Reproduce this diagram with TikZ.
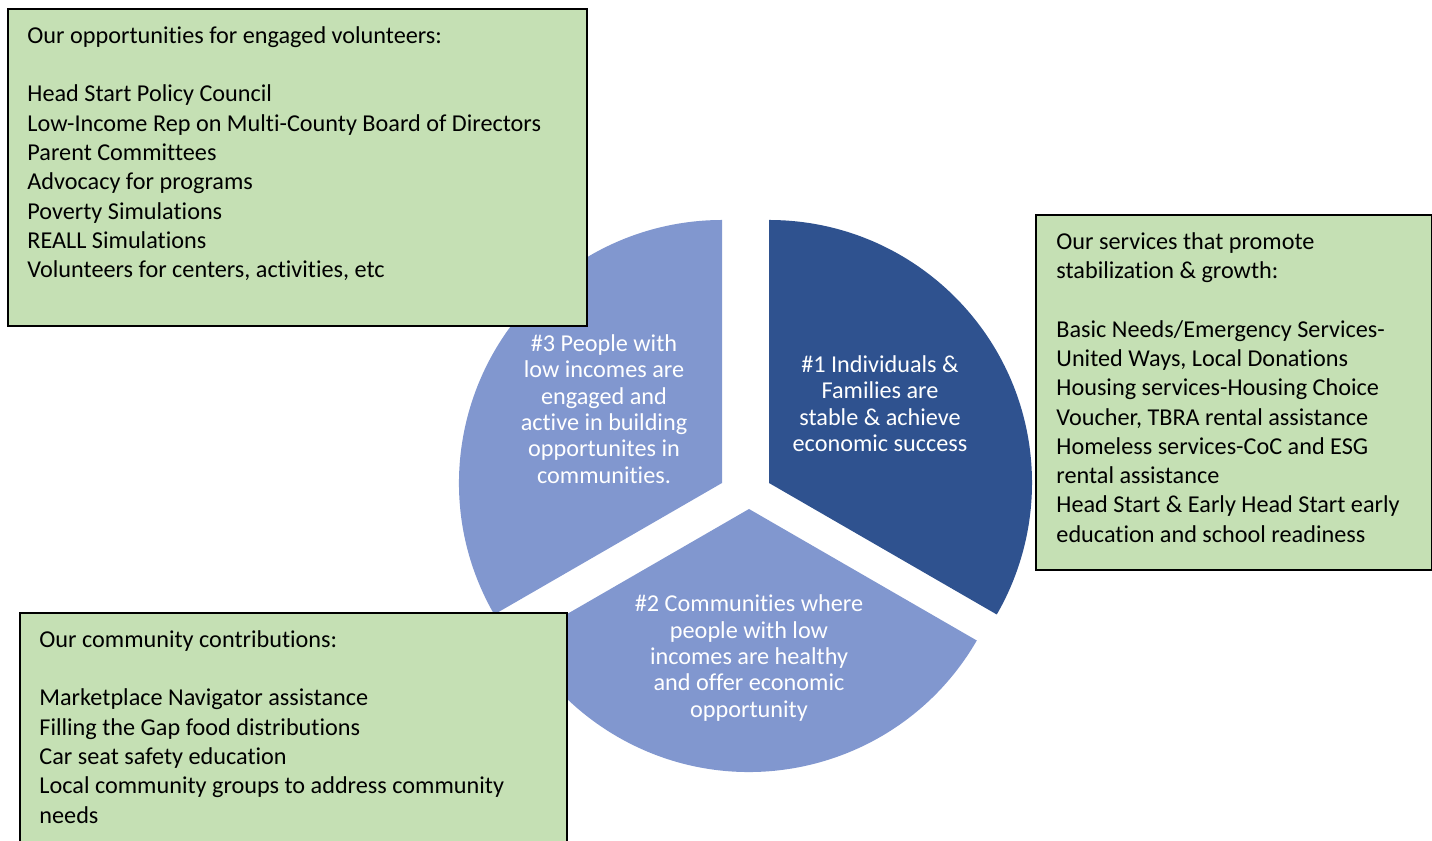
\documentclass[tikz,border=0pt]{standalone}
\usepackage{fontspec}
\setmainfont{Carlito}[Ligatures=CommonOff]
\usepackage{tikz}
\newcommand{\pxu}{0.01625cm}
\definecolor{goaldark}{RGB}{47, 82, 143}
\definecolor{goallight}{RGB}{129, 151, 207}
\definecolor{notegreen}{RGB}{197, 224, 180}

\begin{document}
\begin{tikzpicture}[x=\pxu, y=\pxu,
    infobox/.style={draw=black, line width=0.9pt, fill=notegreen,
      anchor=north west, inner sep=0pt},
    infotext/.style={anchor=north west, inner sep=0pt, align=left,
      font=\fontsize{11.2}{13.55}\selectfont},
    goaltext/.style={white, align=center, inner sep=0pt,
      font=\fontsize{11.2}{12.2}\selectfont}]
  \clip (0,0) rectangle (1432,841);
  % ── Goal sectors ──
  \coordinate (g1) at (769,358);
  \coordinate (g2) at (749,332);
  \coordinate (g3) at (722,358);
  \fill[goaldark] (g1) -- ++(90:263)
    arc[start angle=90, end angle=-30, radius=263] -- cycle;
  \fill[goallight] (g2) -- ++(-30:263)
    arc[start angle=-30, end angle=-150, radius=263] -- cycle;
  \fill[goallight] (g3) -- ++(-150:263)
    arc[start angle=-150, end angle=-270, radius=263] -- cycle;
  \node[goaltext] (goal1) at (880,437.5)
    {\#1 Individuals \&\\Families are\\stable \& achieve\\economic success};
  \node[goaltext] (goal2) at (749,183)
    {\#2 Communities where\\people with low\\incomes are healthy\\
     and offer economic\\opportunity};
  \node[goaltext] (goal3) at (604,432)
    {\#3 People with\\low incomes are\\engaged and\\active in building\\
     opportunites in\\communities.};
  % ── Volunteers box ──
  \node[infobox, minimum width=579*\pxu, minimum height=317*\pxu]
    (volbox) at (7,833) {};
  \node[infotext] (voltext) at ([shift={(20,-18)}]volbox.north west)
    {Our opportunities for engaged volunteers:\\[13.55pt]
     Head Start Policy Council\\
     Low-Income Rep on Multi-County Board of Directors\\
     Parent Committees\\
     Advocacy for programs\\
     Poverty Simulations\\
     REALL Simulations\\
     Volunteers for centers, activities, etc};
  % ── Services box ──
  \node[infobox, minimum width=396*\pxu, minimum height=355*\pxu]
    (svcbox) at (1035,627) {};
  \node[infotext] (svctext) at ([shift={(21,-18)}]svcbox.north west)
    {Our services that promote\\
     stabilization \& growth:\\[13.55pt]
     Basic Needs/Emergency Services-\\
     United Ways, Local Donations\\
     Housing services-Housing Choice\\
     Voucher, TBRA rental assistance\\
     Homeless services-CoC and ESG\\
     rental assistance\\
     Head Start \& Early Head Start early\\
     education and school readiness};
  % ── Community box ──
  \node[infobox, minimum width=547*\pxu, minimum height=260*\pxu]
    (combox) at (19,229) {};
  \node[infotext] (comtext) at ([shift={(20,-18)}]combox.north west)
    {Our community contributions:\\[13.55pt]
     Marketplace Navigator assistance\\
     Filling the Gap food distributions\\
     Car seat safety education\\
     Local community groups to address community\\
     needs};
\end{tikzpicture}
\end{document}
